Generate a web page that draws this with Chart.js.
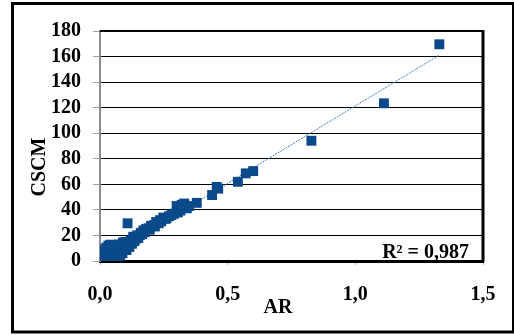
<!DOCTYPE html>
<html>
<head>
<meta charset="utf-8">
<script src="https://cdn.jsdelivr.net/npm/chart.js@4/dist/chart.umd.min.js"></script>
<style>
html,body{margin:0;padding:0;background:#fff;}
#wrap{position:absolute;left:0;top:0;width:514px;height:335px;}
</style>
</head>
<body>
<div id="wrap"><canvas id="c" width="514" height="335"></canvas></div>
<script>
// ---- data ----
const arValues = [
  0.003,0.008,0.012,0.015,0.020,0.022,0.027,0.030,0.035,0.038,
  0.042,0.045,0.050,0.052,0.055,0.060,0.063,0.068,0.070,0.075,
  0.080,0.085,0.090,0.095,0.100,0.104,0.110,0.115,0.120,0.125,
  0.130,0.135,0.140,0.145,0.150,0.156,0.160,0.165,0.170,0.175,
  0.180,0.190,0.195,0.200,0.210,0.215,0.220,0.230,0.235,0.240,
  0.248,0.255,0.260,0.270,0.280,0.290,0.300,0.305,0.307,0.315,
  0.320,0.326,0.330,0.340,0.350,0.379,0.108,0.439,0.457,0.463,
  0.540,0.571,0.600,0.828,1.112,1.329,
  0.010,0.018,0.025,0.033,0.040,0.048,0.058,0.065,0.078,0.088
];
const cscmValues = [
  0.5,2.0,4.0,1.0,6.0,2.5,6.0,1.5,4.0,8.0,
  2.0,9.5,5.5,3.9,11.0,7.0,12.5,5.0,9.0,13.0,
  7.0,11.0,14.5,9.0,15.0,8.6,13.0,11.0,16.0,13.5,
  19.0,15.5,17.5,20.0,18.0,20.3,22.0,21.0,24.0,22.5,
  25.0,25.6,24.5,27.5,28.0,27.0,30.5,29.5,32.0,31.0,
  34.0,33.0,33.4,35.0,36.0,37.0,43.0,38.0,41.0,39.5,
  44.0,42.0,45.0,41.2,43.0,45.5,29.5,51.6,58.0,56.6,
  62.0,68.6,70.4,94.1,123.4,169.6,
  7.5,9.0,10.5,12.0,12.8,1.0,2.5,1.5,4.0,6.0
];
const trendAR = [0.003, 1.329];
const trendCSCM = [0.6, 161.2];
const xTickLabels = ['0,0','0,5','1,0','1,5'];
const yTickLabels = ['0','20','40','60','80','100','120','140','160','180'];
const xTitle = 'AR';
const yTitle = 'CSCM';
const r2Text = 'R\u00B2 = 0,987';

const points = arValues.map((v,i)=>({x:v,y:cscmValues[i]}));
const trend = trendAR.map((v,i)=>({x:v,y:trendCSCM[i]}));

const FONT = '"Liberation Serif","Times New Roman",serif';

const decor = {
  id:'decor',
  afterDraw(chart){
    const ctx = chart.ctx, a = chart.chartArea;
    ctx.save();
    ctx.strokeStyle = '#000';
    ctx.lineWidth = 2;
    ctx.beginPath(); ctx.moveTo(a.left, a.top); ctx.lineTo(a.right+1, a.top); ctx.stroke();
    ctx.lineWidth = 3;
    ctx.beginPath(); ctx.moveTo(a.right, a.top-1); ctx.lineTo(a.right, a.bottom+1); ctx.stroke();
    ctx.lineWidth = 3;
    ctx.strokeRect(12.5, 3.5, 501, 328.5);
    ctx.fillStyle = '#000';
    ctx.font = 'bold 20px ' + FONT;
    ctx.textAlign = 'center';
    ctx.textBaseline = 'middle';
    ctx.fillText(xTitle, 278, 308);
    ctx.save();
    ctx.translate(40, 167);
    ctx.rotate(-Math.PI/2);
    ctx.fillText(yTitle, 0, 0);
    ctx.restore();
    ctx.textAlign = 'right';
    ctx.textBaseline = 'alphabetic';
    ctx.fillText(r2Text, 469, 258);
    ctx.restore();
  }
};

new Chart(document.getElementById('c'), {
  type:'scatter',
  data:{
    datasets:[
      {
        type:'line',
        data: trend,
        borderColor:'#4a7ebb',
        borderWidth:1,
        borderDash:[2,1],
        pointRadius:0,
        fill:false,
        order:2
      },
      {
        data: points,
        pointStyle:'rect',
        pointRadius:7,
        pointBorderWidth:0,
        backgroundColor:'#0a4a8a',
        borderColor:'#0a4a8a',
        order:1
      }
    ]
  },
  options:{
    responsive:false,
    animation:false,
    events:[],
    layout:{padding:{left:0,right:31,top:31,bottom:0}},
    plugins:{legend:{display:false},tooltip:{enabled:false},title:{display:false}},
    scales:{
      x:{
        type:'linear', min:0, max:1.5,
        afterFit(s){ s.height = 74; },
        ticks:{stepSize:0.5, autoSkip:false, maxRotation:0, color:'#000', padding:18, font:{family:FONT, size:20, weight:'bold'},
          callback:(v,i)=>xTickLabels[i]},
        grid:{drawOnChartArea:false, drawTicks:true, tickLength:4, tickColor:'#b0b0b0', color:'#b0b0b0'},
        border:{display:true, color:'#000', width:3}
      },
      y:{
        type:'linear', min:0, max:180,
        afterFit(s){ s.width = 100; },
        ticks:{stepSize:20, autoSkip:false, color:'#000', padding:12, font:{family:FONT, size:20, weight:'bold'},
          callback:(v,i)=>yTickLabels[i]},
        grid:{color:'#000', lineWidth:1, drawTicks:true, tickLength:7, tickColor:'#a0a0a0'},
        border:{display:true, color:'#8c8c8c', width:2}
      }
    }
  },
  plugins:[decor]
});
</script>
</body>
</html>
